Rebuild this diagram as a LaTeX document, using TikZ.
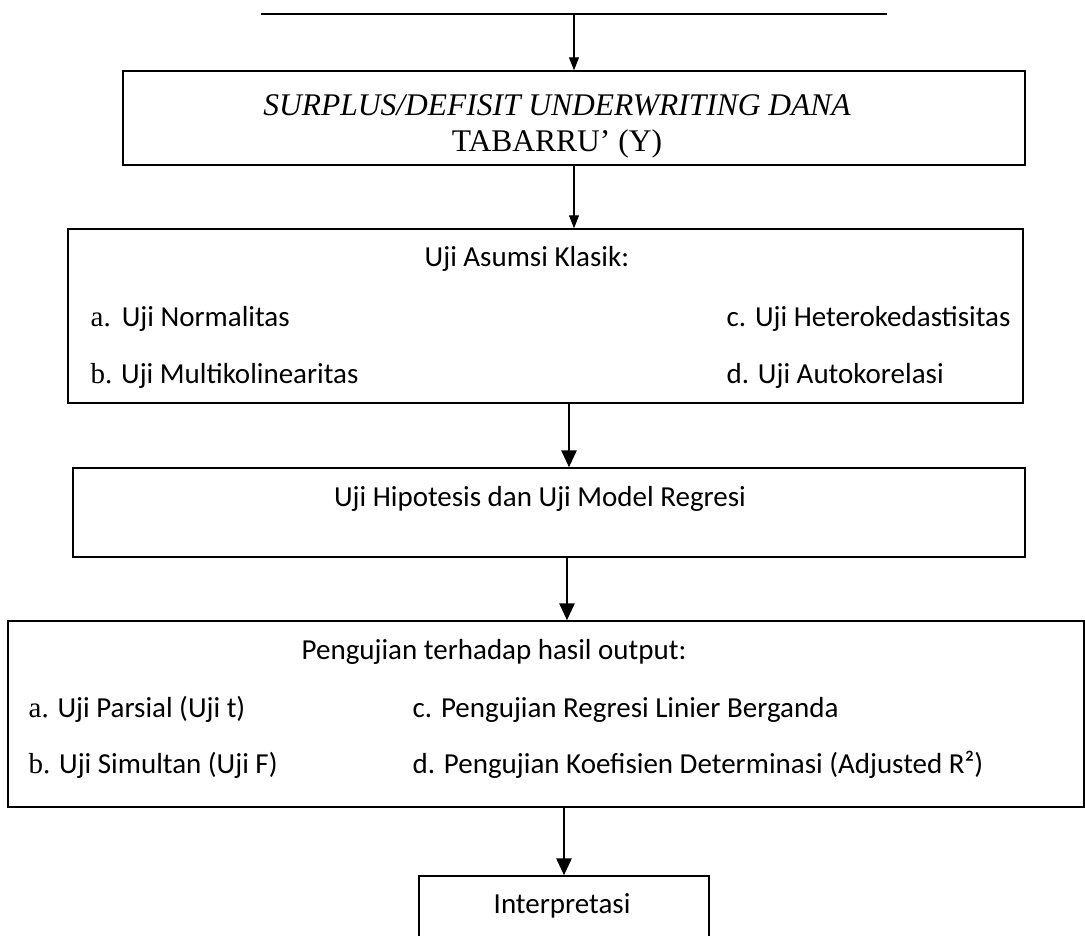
\documentclass[tikz,border=0pt]{standalone}
\usepackage{fontspec}
\setmainfont{Liberation Serif}
\newfontfamily\calibri{Carlito}
\usetikzlibrary{arrows.meta}

\begin{document}
\begin{tikzpicture}[x=1pt, y=-1pt, line width=1.4pt,
  main node/.style={draw, rectangle, inner sep=0pt},
  thin arrow/.style={-{Triangle[length=13pt,width=10pt]}, line width=1.2pt},
  thick arrow/.style={-{Triangle[length=17pt,width=15pt]}, line width=2.8pt}]
  \tikzstyle{every node}=[inner sep=0pt, font=\calibri\fontsize{29}{34}\selectfont]
  \useasboundingbox (0,0) rectangle (1085,935);

  \coordinate (l1) at (261,14);
  \coordinate (l2) at (887,14);
  \draw (l1) -- (l2);

  \node[main node, minimum width=902pt, minimum height=94pt] (y) at (574,118) {};
  \node[main node, minimum width=955pt, minimum height=174pt] (asumsi) at (545.5,316) {};
  \node[main node, minimum width=952pt, minimum height=89pt] (hipotesis) at (549,512.5) {};
  \node[main node, minimum width=1076pt, minimum height=186pt] (output) at (546,714) {};
  \node[main node, minimum width=290pt, minimum height=74pt] (interp) at (564,913) {};

  % texts
  \node[anchor=base, font=\rmfamily\fontsize{31.5}{36}\selectfont] (y1) at (557,115) {\itshape SURPLUS/DEFISIT UNDERWRITING DANA};
  \node[anchor=base, font=\rmfamily\fontsize{31.5}{36}\selectfont] (y2) at (557,151) {TABARRU’ (Y)};

  \node[anchor=base west] (as0) at (424,266) {Uji Asumsi Klasik:};
  \node[anchor=base west] (asa) at (90,326) {{\rmfamily a.}\hspace{11pt}Uji Normalitas};
  \node[anchor=base west] (asb) at (90,383) {{\rmfamily b.} Uji Multikolinearitas};
  \node[anchor=base west] (asc) at (726,326) {c. Uji Heterokedastisitas};
  \node[anchor=base west] (asd) at (726,383) {d. Uji Autokorelasi};

  \node[anchor=base] (hp) at (540,506) {Uji Hipotesis dan Uji Model Regresi};

  \node[anchor=base west] (op0) at (301,659) {Pengujian terhadap hasil output:};
  \node[anchor=base west] (opa) at (28,717) {{\rmfamily a.} Uji Parsial (Uji t)};
  \node[anchor=base west] (opb) at (28,773) {{\rmfamily b.} Uji Simultan (Uji F)};
  \node[anchor=base west] (opc) at (412,717) {c. Pengujian Regresi Linier Berganda};
  \node[anchor=base west] (opd) at (412,773) {d. Pengujian Koefisien Determinasi (Adjusted R²)};

  \node[anchor=base west] (ip) at (493,913) {Interpretasi};

  % arrows
  \draw[thin arrow] (l1 -| y.north) -- (y.north);
  \draw[thin arrow] (y.south) -- (y.south |- asumsi.north);
  \draw[thick arrow] ([xshift=23.5pt]asumsi.south) -- ([xshift=23.5pt]asumsi.south |- hipotesis.north);
  \draw[thick arrow] ([xshift=18pt]hipotesis.south) -- ([xshift=18pt]hipotesis.south |- output.north);
  \draw[thick arrow] (interp.north |- output.south) -- (interp.north);
\end{tikzpicture}
\end{document}
